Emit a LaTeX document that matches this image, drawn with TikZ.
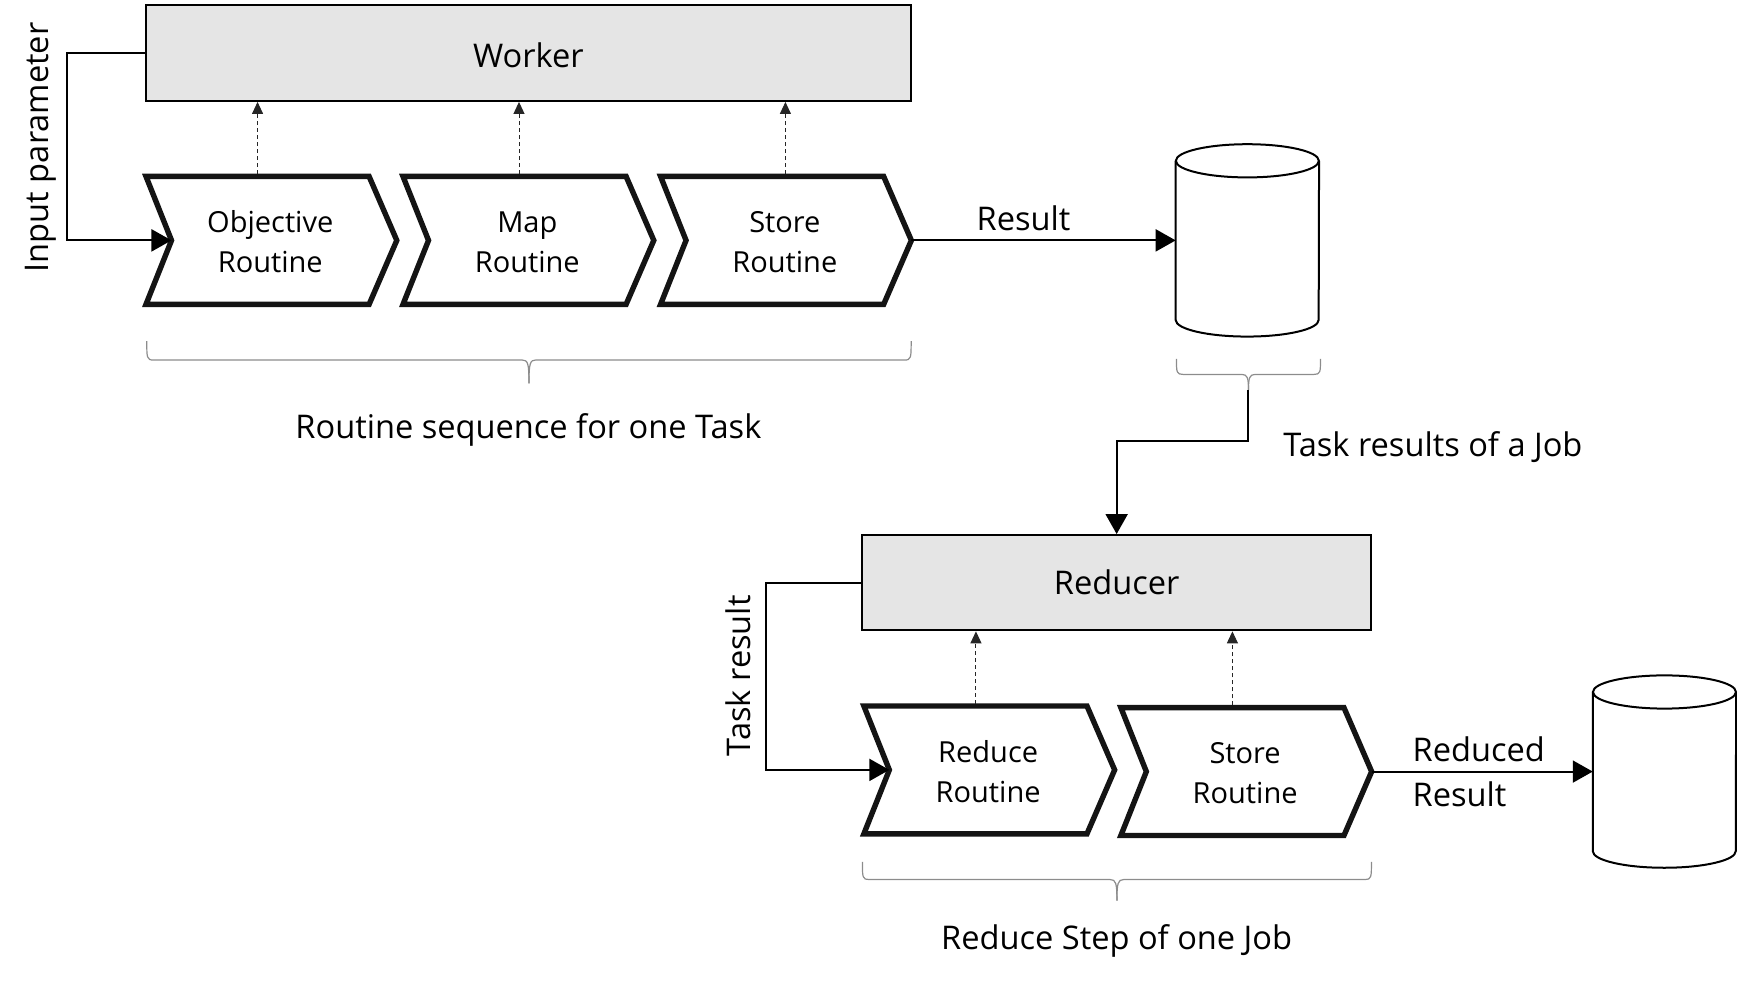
\documentclass[tikz,border=0pt]{standalone}
\usepackage{fontspec}
\setmainfont{Open Sans}
\usetikzlibrary{calc,arrows.meta}
\newcommand{\fsA}{\fontsize{32.6}{38}\selectfont}
\newcommand{\fsB}{\fontsize{29}{40}\selectfont}
\tikzset{
  x=1.1078pt,y=-1.1078pt,
  mainbox/.style={draw=black,line width=2pt,fill=black!10,inner sep=0pt,font=\fsA},
  routine/.style={inner sep=0pt,align=center,font=\fsB,minimum width=252.6pt,minimum height=127.5pt},
  chevline/.style={draw=black!92,line width=5.4pt,miter limit=10,fill=white},
  dbbox/.style={inner sep=0pt,minimum width=143pt,minimum height=192pt},
  dbline/.style={draw=black,line width=2pt,fill=white},
  flow/.style={draw=black,line width=2pt,-{Triangle[length=20pt,width=22pt]}},
  dep/.style={draw=black!85,line width=1pt,dash pattern=on 4pt off 3pt,-{Triangle[length=12pt,width=11pt]}},
  bracket/.style={draw=black!45,line width=1.2pt},
  label/.style={inner sep=0pt,font=\fsA}
}
% chevron: #1 name, #2 centre, #3 text
\newcommand{\chev}[3]{%
  \node[routine] (#1) at (#2) {};
  \path[chevline] ($(#1.north west)+(2,0)$) -- ($(#1.north east)+(-25,0)$) -- (#1.east)
    -- ($(#1.south east)+(-25,0)$) -- ($(#1.south west)+(2,0)$) -- ($(#1.west)+(25,0)$) coordinate (#1-notch) -- cycle;
  \node[routine] at ($(#1)+(0,1.5)$) {#3};
}
% cylinder: #1 name, #2 centre
\newcommand{\drum}[2]{%
  \node[dbbox] (#1) at (#2) {};
  \path[dbline] ($(#1.north west)+(0,15)$) -- ($(#1.south west)+(0,-15)$)
     arc[start angle=180,end angle=360,x radius=71.5pt,y radius=16.6pt]
     -- ($(#1.north east)+(0,15)$);
  \path[dbline] ($(#1.north)+(0,15)$) ellipse[x radius=71.5pt,y radius=16.6pt];
}
% brace: #1 left, #2 right, #3 y top, #4 y bar, #5 y tip, #6 tip coordinate name
\newcommand{\gbrace}[6]{%
  \coordinate (#6) at ({(#1+#2)/2},#5);
  \draw[bracket] (#1,#3) .. controls (#1,{#4-2}) and (#1,#4) .. ({#1+6},#4)
    -- ({(#1+#2)/2-6},#4) .. controls ({(#1+#2)/2-1},#4) and ({(#1+#2)/2},{#4+3}) .. (#6);
  \draw[bracket] (#2,#3) .. controls (#2,{#4-2}) and (#2,#4) .. ({#2-6},#4)
    -- ({(#1+#2)/2+6},#4) .. controls ({(#1+#2)/2+1},#4) and ({(#1+#2)/2},{#4+3}) .. (#6);
}
\begin{document}
\begin{tikzpicture}
\useasboundingbox (0,0) rectangle (1568,887.3);
% boxes
\node[mainbox,minimum width=764.4pt,minimum height=95.5pt] (worker) at (477,48) {};
\node[font=\fsA,inner sep=0pt] (workertxt) at (477,49.5) {Worker};
\node[mainbox,minimum width=509.6pt,minimum height=95.3pt] (reducer) at (1008,526) {Reducer};
% routines
\chev{obj}{244,217}{Objective\\Routine}
\chev{map}{476,217}{Map\\Routine}
\chev{store}{708.5,217}{Store\\Routine}
\chev{red}{892,695}{Reduce\\Routine}
\chev{stb}{1124,696.5}{Store\\Routine}
% stores
\drum{dba}{1126,217}
\drum{dbb}{1502.5,696.5}
% braces
\gbrace{132.5}{822.5}{308}{325}{346}{tipa}
\gbrace{1062}{1192}{324}{338}{352}{tipb}
\gbrace{778.5}{1238}{778}{794}{813}{tipc}
% connectors
\draw[flow] (worker.west) -- ++(-71,0) |- (obj-notch);
\draw[flow] (store.east) -- (dba.west);
\draw[flow] (tipb) -- ++(0,46) -| (reducer.north);
\draw[flow] (reducer.west) -- ++(-86,0) |- (red-notch);
\draw[flow] (stb.east) -- (dbb.west);
\draw[dep] ($(obj.north)+(-11.5,-2)$) coordinate (da) -- (da |- worker.south);
\draw[dep] ($(map.north)+(-7.5,-2)$) coordinate (db) -- (db |- worker.south);
\draw[dep] ($(store.north)+(0.5,-2)$) coordinate (dc) -- (dc |- worker.south);
\draw[dep] ($(red.north)+(-11,-2)$) coordinate (dd) -- (dd |- reducer.south);
\draw[dep] ($(stb.north)+(-11.5,-2)$) coordinate (de) -- (de |- reducer.south);
% labels
\node[label,rotate=90] (linput) at (37,133) {Input parameter};
\node[label,rotate=90] (ltask) at (666,610) {Task result};
\node[label] (lres) at (924,197) {Result};
\node[label] (lseq) at (477,388) {Routine sequence for one Task};
\node[label] (ljob) at (1293.5,404) {Task results of a Job};
\node[label,anchor=west] (lredu) at (1275,676) {Reduced};
\node[label,anchor=west] (lresb) at (1275,717) {Result};
\node[label] (lstep) at (1008,849) {Reduce Step of one Job};
\end{tikzpicture}
\end{document}
